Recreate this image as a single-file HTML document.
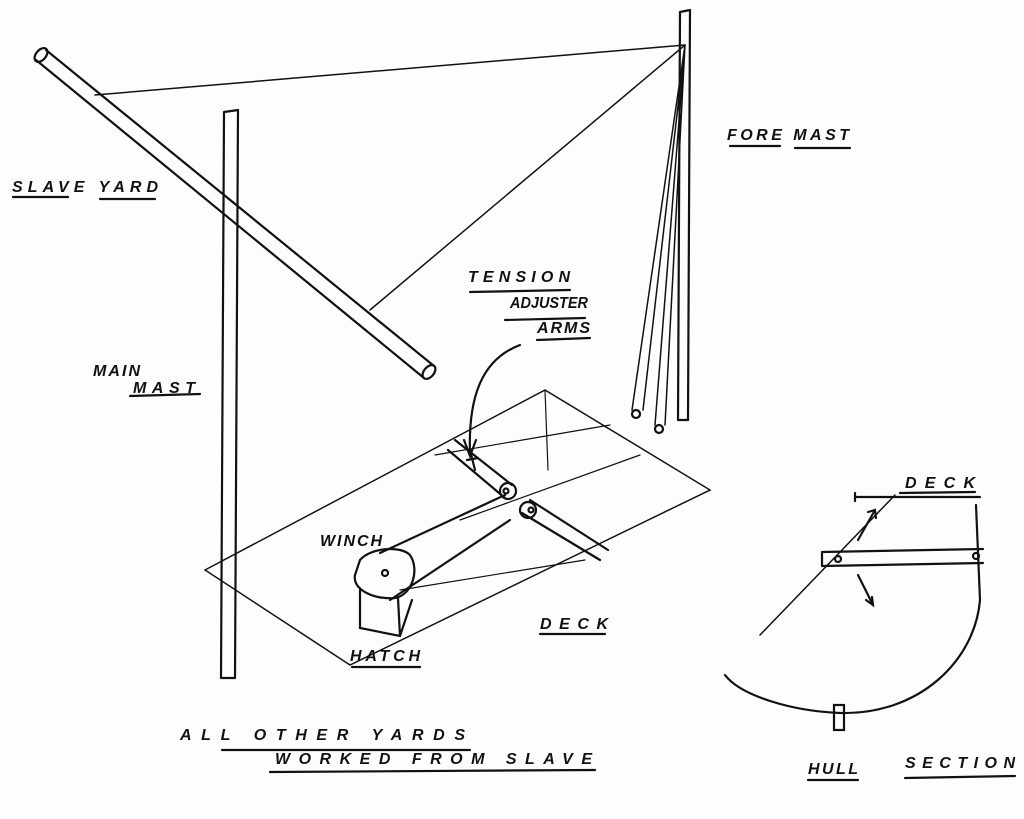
<!DOCTYPE html>
<html><head><style>
html,body{margin:0;padding:0;background:#fff;}
svg{display:block}
text{font-family:"Liberation Sans",sans-serif;font-size:16px;fill:#111;font-style:italic;font-weight:bold}
</style></head><body>
<svg width="1024" height="819" viewBox="0 0 1024 819" xmlns="http://www.w3.org/2000/svg">
<rect width="1024" height="819" fill="#fdfdfd"/>
<g stroke="#111" stroke-width="2.2" fill="none" stroke-linecap="round">
<path d="M36 60 L424 378 M46 50 L434 366"/>
<ellipse cx="41" cy="55" rx="5" ry="8" transform="rotate(40 41 55)"/>
<ellipse cx="429" cy="372" rx="5" ry="8" transform="rotate(40 429 372)"/>
<path d="M224 112 L221 678 M238 110 L235 678 M224 112 L238 110 M221 678 L235 678"/>
<path d="M680 12 L678 420 M690 10 L688 420 M680 12 L690 10 M678 420 L688 420"/>
<path d="M95 95 L685 45 M370 310 L685 45" stroke-width="1.5"/>
<path d="M685 45 L632 410 M685 45 L643 410 M685 45 L655 425 M685 45 L665 425" stroke-width="1.5"/>
<circle cx="636" cy="414" r="4"/><circle cx="659" cy="429" r="4"/>
<path d="M205 570 L545 390 L710 490 L350 665 Z" stroke-width="1.5"/>
<path d="M545 390 L548 470" stroke-width="1.2"/>
<path d="M435 455 L610 425 M460 520 L640 455 M400 590 L585 560" stroke-width="1.2"/>
<path d="M455 440 L512 485 M448 450 L505 498"/>
<circle cx="508" cy="491" r="8"/><circle cx="506" cy="491" r="2.5"/>
<path d="M530 500 L608 550 M522 513 L600 560"/>
<circle cx="528" cy="510" r="8"/><circle cx="531" cy="510" r="2.5"/>
<path d="M470 450 L475 470 M467 460 L478 458"/>
<path d="M520 345 C480 360 468 400 470 455"/>
<path d="M464 440 L470 456 L476 440"/>
<path d="M380 553 L505 495 M390 600 L510 520"/>
<path d="M360 560 C370 548 400 545 410 555 C420 570 412 595 395 598 C375 600 352 590 355 575 Z"/>
<circle cx="385" cy="573" r="3"/>
<path d="M360 590 L360 628 L400 636 L412 600 M400 636 L398 598"/>
<path d="M855 497 L980 497 M855 493 L855 501"/>
<path d="M760 635 L895 495" stroke-width="1.5"/>
<path d="M822 552 L983 549 M822 566 L983 563 M822 552 L822 566"/>
<circle cx="838" cy="559" r="3"/><circle cx="976" cy="556" r="3"/>
<path d="M976 505 L980 600 C975 660 920 715 840 713 C790 711 740 695 725 675"/>
<rect x="834" y="705" width="10" height="25"/>
<path d="M858 540 L875 510 M868 512 L875 510 L876 518"/>
<path d="M858 575 L873 605 M866 600 L873 605 L872 597"/>
<path d="M13 197 L68 197 M100 199 L155 199 M730 146 L780 146 M795 148 L850 148"/>
<path d="M470 292 L570 290 M505 320 L585 318 M537 340 L590 338"/>
<path d="M130 396 L200 394 M352 667 L420 667 M540 634 L605 634"/>
<path d="M222 750 L470 750 M270 772 L595 770 M808 780 L858 780 M905 778 L1015 776 M900 493 L975 492"/>
</g>
<text x="12" y="192" textLength="146" lengthAdjust="spacing">SLAVE YARD</text>
<text x="727" y="140" textLength="122" lengthAdjust="spacing">FORE MAST</text>
<text x="468" y="282" textLength="102" lengthAdjust="spacing">TENSION</text>
<text x="510" y="308" textLength="78" lengthAdjust="spacingAndGlyphs">ADJUSTER</text>
<text x="537" y="333" textLength="53" lengthAdjust="spacing">ARMS</text>
<text x="93" y="376" textLength="47" lengthAdjust="spacing">MAIN</text>
<text x="133" y="393" textLength="62" lengthAdjust="spacing">MAST</text>
<text x="320" y="546" font-size="13" textLength="62" lengthAdjust="spacing">WINCH</text>
<text x="350" y="661" textLength="70" lengthAdjust="spacing">HATCH</text>
<text x="540" y="629" textLength="68" lengthAdjust="spacing">DECK</text>
<text x="905" y="488" textLength="70" lengthAdjust="spacing">DECK</text>
<text x="180" y="740" textLength="285" lengthAdjust="spacing">ALL OTHER YARDS</text>
<text x="275" y="764" textLength="317" lengthAdjust="spacing">WORKED FROM SLAVE</text>
<text x="808" y="774" textLength="50" lengthAdjust="spacing">HULL</text>
<text x="905" y="768" textLength="110" lengthAdjust="spacing">SECTION</text>
</svg>
</body></html>
